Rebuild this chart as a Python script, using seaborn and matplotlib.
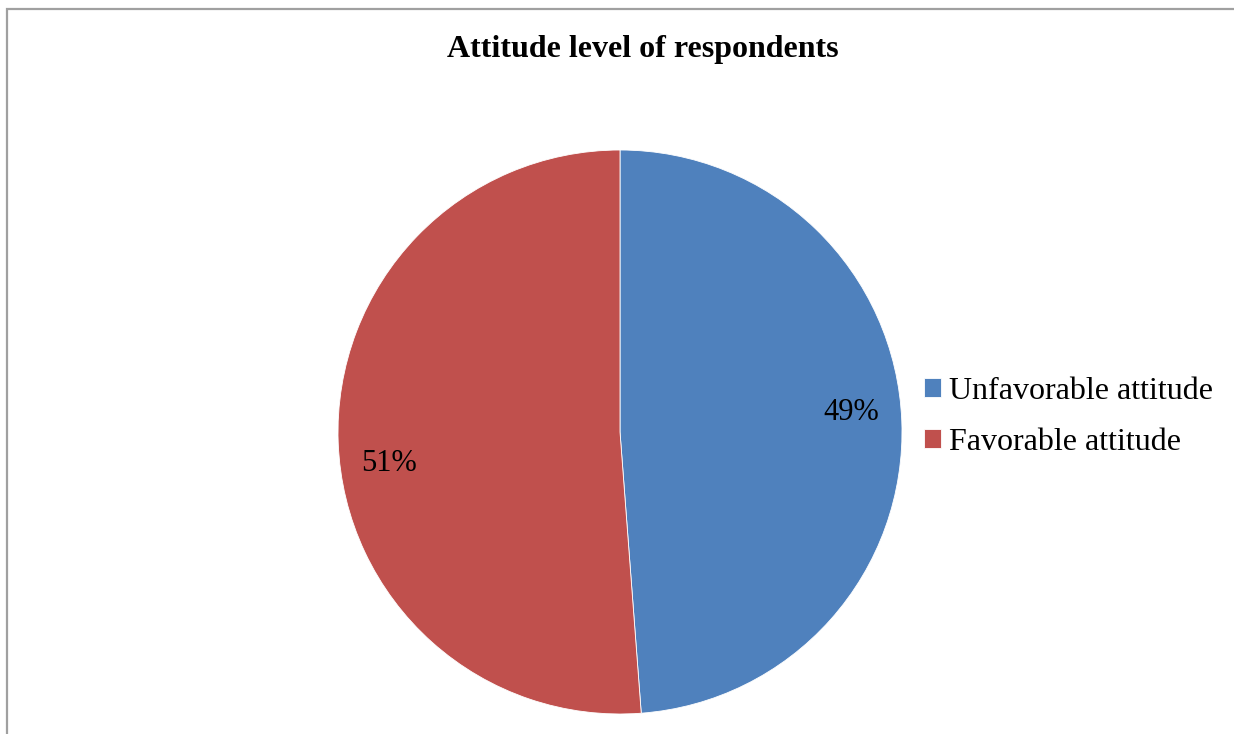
import matplotlib
matplotlib.use("Agg")
import matplotlib.pyplot as plt
import matplotlib.patches as mpatches
import seaborn as sns

categories = ['Unfavorable attitude', 'Favorable attitude']
shares = [48.8, 51.2]
colors = ['#4F81BD', '#C0504D']
title = 'Attitude level of respondents'

sns.set_theme(style="white")
plt.rcParams['font.family'] = ['Liberation Serif', 'DejaVu Serif']
plt.rcParams['text.color'] = 'black'

fig = plt.figure(figsize=(12.34, 7.34), dpi=100)
W, H = 1234, 734
cx, cy, r = 620, 432, 282
ax = fig.add_axes([(cx - r) / W, (H - cy - r) / H, 2 * r / W, 2 * r / H])

wedges, texts, autotexts = ax.pie(
    shares, colors=colors, startangle=90, counterclock=False,
    autopct='%.0f%%', pctdistance=0.82, radius=1.0,
    wedgeprops=dict(edgecolor='white', linewidth=0.6),
    textprops=dict(fontsize=22, color='black'))
# Excel puts the labels a little off the wedge middle
for t, dy in zip(autotexts, [0.04, -0.08]):
    x, y = t.get_position()
    t.set_position((x, y + dy))
ax.set_aspect('equal')
ax.set_xlim(-1, 1)
ax.set_ylim(-1, 1)
ax.axis('off')

fig.text(643 / W, 1 - 50 / H, title, ha='center', va='center',
         fontsize=23, fontweight='bold', color='black')

fig.legend(wedges, categories, loc='center left',
           bbox_to_anchor=(911 / W, 1 - 417 / H), frameon=False,
           fontsize=23, handlelength=0.55, handleheight=0.55,
           handletextpad=0.25, labelspacing=0.68, borderaxespad=0,
           labelcolor='black')

# frame around the chart area
fig.patches.append(mpatches.Rectangle(
    (6.5 / W, -0.2), 1.2, 1.2 - 8.5 / H, transform=fig.transFigure,
    fill=False, edgecolor='#A0A0A0', linewidth=1.6, figure=fig))

fig.savefig('out.png', dpi=100, facecolor='white')
